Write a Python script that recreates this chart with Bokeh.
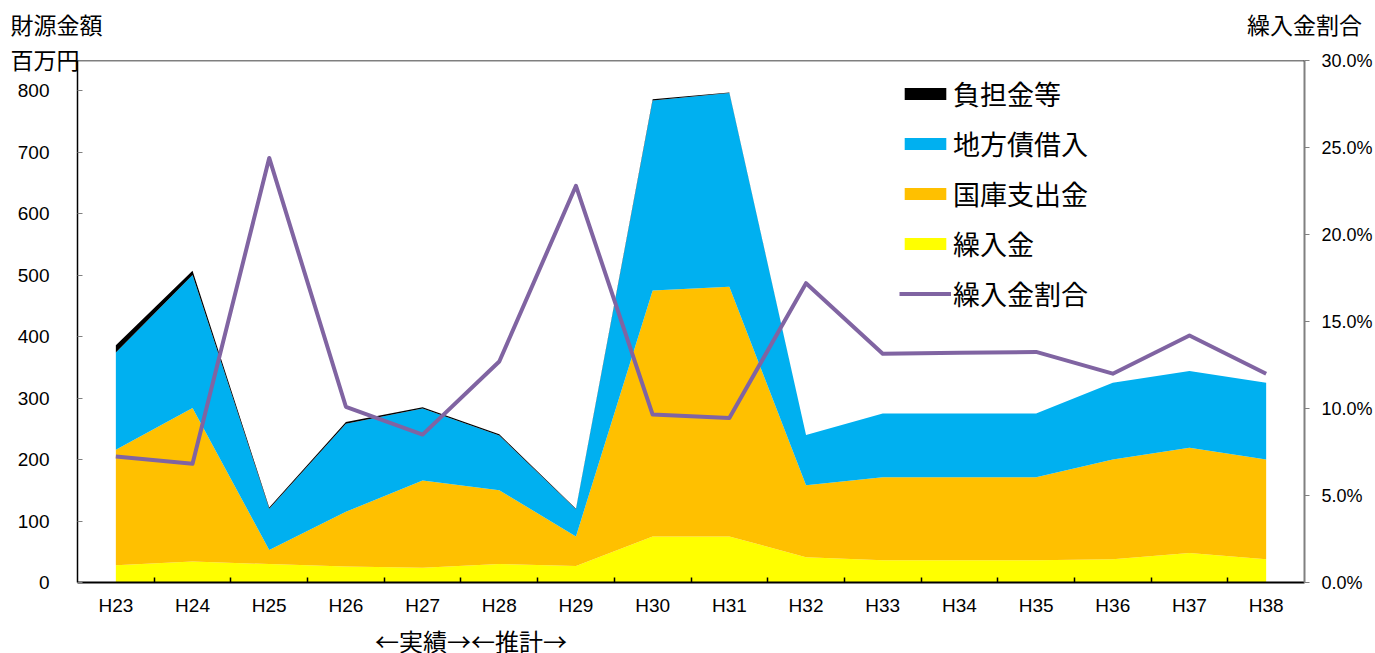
from bokeh.plotting import figure
from bokeh.models import (ColumnDataSource, Range1d, LinearAxis, FixedTicker,
                          NumeralTickFormatter, Label, Legend, LegendItem, Span)
from bokeh.embed import file_html
from bokeh.resources import INLINE

# Fiscal years
years = ["H23", "H24", "H25", "H26", "H27", "H28", "H29", "H30",
         "H31", "H32", "H33", "H34", "H35", "H36", "H37", "H38"]

# Funding sources (million yen)
kuriire = [28, 34, 30, 26, 24, 30, 27, 75, 75, 41, 36, 36, 36, 38, 48, 38]          # 繰入金
kokko = [188, 250, 23, 89, 142, 120, 48, 400, 406, 117, 135, 135, 135, 162, 171, 162]  # 国庫支出金
chihousai = [158, 216, 67, 143, 117, 89, 44, 309, 315, 82, 104, 104, 104, 125, 125, 125]  # 地方債借入
futankin = [12, 7, 2, 3, 2, 2, 1, 2, 1, 0, 0, 0, 0, 0, 0, 0]                         # 負担金等

# Share of transfers in total funding (%)
ratio = [7.24, 6.82, 24.4, 10.1, 8.5, 12.7, 22.8, 9.65, 9.45, 17.2,
         13.15, 13.2, 13.25, 12.0, 14.2, 12.0]

left_ticks = [0, 100, 200, 300, 400, 500, 600, 700, 800]
right_ticks = [0, 5, 10, 15, 20, 25, 30]

JP = "Noto Sans CJK JP"
NUM = "Liberation Sans"

xs = [i + 0.5 for i in range(len(years))]
src = ColumnDataSource(dict(x=xs, kuriire=kuriire, kokko=kokko,
                            chihousai=chihousai, futankin=futankin,
                            ratio=[r / 100 for r in ratio]))

p = figure(width=1375, height=653, output_backend="svg", toolbar_location=None,
           x_range=Range1d(0, len(years)), y_range=Range1d(0, 849),
           min_border_left=77, min_border_right=70, min_border_top=60,
           min_border_bottom=71)
p.grid.visible = False
p.outline_line_color = None
p.background_fill_color = "white"
p.border_fill_color = "white"

colors = ["#FFFF00", "#FFC000", "#00B0F0", "#000000"]
stack = ["kuriire", "kokko", "chihousai", "futankin"]
areas = p.varea_stack(stackers=stack, x="x", color=colors, source=src)

p.extra_y_ranges = {"pct": Range1d(0, 0.30)}
line = p.line("x", "ratio", source=src, y_range_name="pct",
              line_color="#8064A2", line_width=4, line_join="round")

# top frame edge
p.add_layout(Span(location=849, dimension="width", line_color="black", line_width=1.5))

# left axis
ya = p.yaxis[0]
ya.ticker = FixedTicker(ticks=left_ticks)
ya.axis_line_color = "black"
ya.axis_line_width = 1.5
ya.major_tick_in = 5
ya.major_tick_out = 0
ya.major_tick_line_color = "#808080"
ya.minor_tick_line_color = None
ya.major_label_text_font = NUM
ya.major_label_text_font_size = "19px"
ya.major_label_text_color = "black"
ya.major_label_standoff = 28

# right axis
ra = LinearAxis(y_range_name="pct", ticker=FixedTicker(ticks=[t / 100 for t in right_ticks]),
                formatter=NumeralTickFormatter(format="0.0%"))
ra.axis_line_color = "#808080"
ra.axis_line_width = 2
ra.major_tick_in = 0
ra.major_tick_out = 5
ra.major_tick_line_color = "#808080"
ra.minor_tick_line_color = None
ra.major_label_text_font = NUM
ra.major_label_text_font_size = "18px"
ra.major_label_text_color = "black"
ra.major_label_standoff = 12
p.add_layout(ra, "right")

# bottom axis: labels at category centres, ticks at category boundaries
xa = p.xaxis[0]
xa.ticker = FixedTicker(ticks=xs, minor_ticks=list(range(1, len(years))))
xa.major_label_overrides = {x: y for x, y in zip(xs, years)}
xa.axis_line_color = "black"
xa.axis_line_width = 2
xa.major_tick_line_color = None
xa.major_tick_in = 0
xa.major_tick_out = 0
xa.minor_tick_in = 5
xa.minor_tick_out = 0
xa.minor_tick_line_color = "black"
xa.minor_tick_line_width = 1.5
xa.major_label_text_font = NUM
xa.major_label_text_font_size = "19px"
xa.major_label_text_color = "black"
xa.major_label_standoff = 12

# unit captions above the frame, drawn as labels of a bare top axis
cap_pos = [0.026, 16]
cap_text = ["財源金額　　\n百万円　　　", "繰入金割合\n　"]
ta = LinearAxis(ticker=FixedTicker(ticks=cap_pos),
                major_label_overrides=dict(zip(cap_pos, cap_text)))
ta.axis_line_color = None
ta.major_tick_line_color = None
ta.minor_tick_line_color = None
ta.major_tick_in = 0
ta.major_tick_out = 0
ta.minor_tick_in = 0
ta.minor_tick_out = 0
ta.major_label_standoff = -15
ta.major_label_text_font = JP
ta.major_label_text_font_size = "23px"
ta.major_label_text_color = "black"
ta.major_label_text_line_height = 1.02
p.add_layout(ta, "above")

# legend
items = [
    LegendItem(label="負担金等", renderers=[areas[3]]),
    LegendItem(label="地方債借入", renderers=[areas[2]]),
    LegendItem(label="国庫支出金", renderers=[areas[1]]),
    LegendItem(label="繰入金", renderers=[areas[0]]),
    LegendItem(label="繰入金割合", renderers=[line]),
]
leg = Legend(items=items, location=(822, 269), orientation="vertical",
             glyph_width=52, glyph_height=15, label_height=26, spacing=11,
             label_standoff=2, padding=0, margin=0,
             border_line_color=None, background_fill_alpha=0,
             label_text_font=JP, label_text_font_size="27px",
             label_text_color="black")
p.add_layout(leg, "center")

# period note under the year labels
p.add_layout(Label(x=5.13, y=13, x_units="data", y_units="screen",
                   text="←実績→←推計→", text_font=JP, text_font_size="24px",
                   text_align="center", text_baseline="middle",
                   text_color="black"), "below")

open("out.html", "w").write(file_html(p, INLINE))
